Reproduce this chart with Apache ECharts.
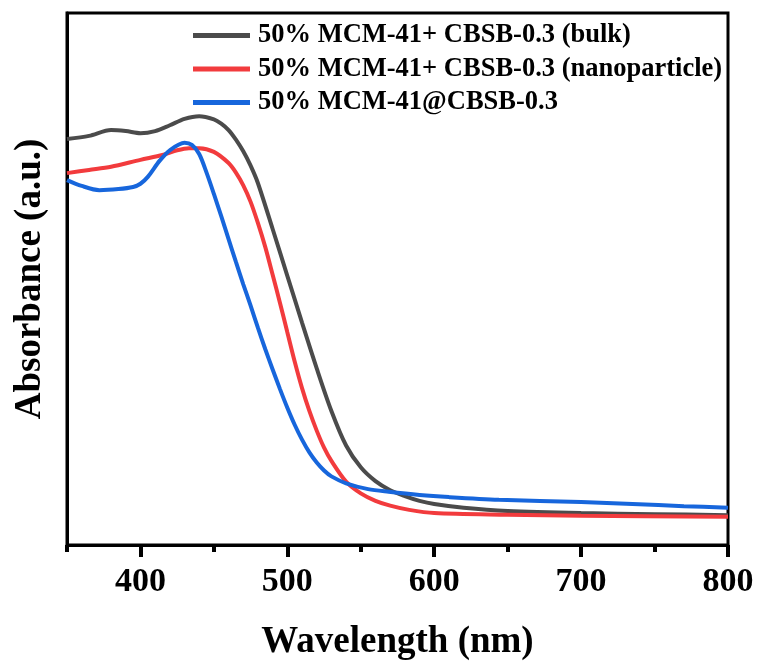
<!DOCTYPE html>
<html>
<head>
<meta charset="utf-8">
<script src="https://cdn.jsdelivr.net/npm/echarts@6/dist/echarts.min.js"></script>
<style>html,body{margin:0;padding:0;background:#fff;}#c{width:759px;height:666px;}</style>
</head>
<body>
<div id="c"></div>
<script>
const seriesNames = ['50% MCM-41+ CBSB-0.3 (bulk)', '50% MCM-41+ CBSB-0.3 (nanoparticle)', '50% MCM-41@CBSB-0.3'];
const xTicks = [400, 500, 600, 700, 800];
const xMinorTicks = [350, 450, 550, 650, 750];

const bulk = [[350,0.763],[365,0.769],[380,0.780],[390,0.778],[400,0.774],[410,0.778],[420,0.789],[430,0.801],[440,0.806],[450,0.800],[455,0.792],[460,0.780],[465,0.762],[470,0.740],[475,0.713],[480,0.680],[490,0.594],[500,0.506],[510,0.418],[520,0.332],[530,0.252],[540,0.187],[550,0.146],[560,0.120],[570,0.103],[580,0.092],[590,0.083],[600,0.077],[620,0.070],[650,0.064],[700,0.060],[750,0.058],[800,0.056]];

const nano = [[350,0.699],[365,0.705],[380,0.711],[400,0.724],[415,0.733],[425,0.742],[433,0.746],[440,0.746],[450,0.739],[460,0.718],[465,0.700],[470,0.676],[475,0.645],[480,0.605],[485,0.560],[490,0.508],[495,0.455],[500,0.400],[505,0.345],[510,0.295],[515,0.252],[520,0.215],[525,0.183],[530,0.158],[540,0.119],[550,0.097],[560,0.083],[570,0.074],[583,0.066],[600,0.060],[650,0.057],[700,0.055],[800,0.053]];

const core = [[350,0.686],[360,0.675],[372,0.667],[385,0.669],[395,0.673],[400,0.679],[405,0.692],[413,0.722],[420,0.742],[430,0.756],[435,0.752],[440,0.735],[445,0.700],[450,0.660],[455,0.618],[460,0.575],[465,0.532],[470,0.490],[475,0.450],[480,0.408],[485,0.368],[490,0.330],[495,0.293],[500,0.258],[505,0.226],[510,0.198],[515,0.174],[520,0.155],[525,0.140],[530,0.129],[540,0.116],[555,0.105],[569,0.100],[590,0.094],[610,0.090],[644,0.085],[700,0.081],[735,0.077],[770,0.073],[800,0.070]];

const colors = ['#4b4b4b', '#f23b3d', '#1766dc'];
const font = 'Liberation Serif';

const chart = echarts.init(document.getElementById('c'), null, {renderer: 'canvas'});
const mk = (name, data, color) => ({
  name, type: 'line', data, showSymbol: false, symbol: 'none',
  smooth: 0.3, xAxisIndex: 0,
  lineStyle: {color, width: 4}, itemStyle: {color}
});
chart.setOption({
  animation: false,
  backgroundColor: '#fff',
  grid: {left: 67, right: 31, top: 13, bottom: 121, show: true, borderColor: '#000', borderWidth: 3, backgroundColor: 'transparent'},
  legend: {
    orient: 'vertical', left: 188, top: 17, icon: 'rect', itemWidth: 57, itemHeight: 5, itemGap: 6.5,
    textStyle: {fontFamily: font, fontWeight: 'bold', fontSize: 26.5, color: '#000', lineHeight: 26, padding: [0,0,0,3]},
    data: seriesNames
  },
  xAxis: [{
    type: 'value', min: 350, max: 800, interval: 50,
    name: 'Wavelength (nm)', nameLocation: 'middle', nameGap: 97,
    nameTextStyle: {fontFamily: font, fontWeight: 'bold', fontSize: 37, color: '#000', verticalAlign: 'middle'},
    axisLine: {show: true, lineStyle: {color: '#000', width: 3}},
    axisTick: {show: true, inside: false, length: 12, lineStyle: {color: '#000', width: 4},
      customValues: xTicks},
    axisLabel: {fontFamily: font, fontWeight: 'bold', fontSize: 34, color: '#000', margin: 20,
      customValues: xTicks},
    splitLine: {show: false}
  }, {
    type: 'value', min: 350, max: 800, interval: 50, position: 'bottom',
    axisLine: {show: false},
    axisTick: {show: true, inside: false, length: 7, lineStyle: {color: '#000', width: 4},
      customValues: xMinorTicks},
    axisLabel: {show: false}, splitLine: {show: false}
  }],
  yAxis: {
    type: 'value', min: 0, max: 1,
    name: 'Absorbance (a.u.)', nameLocation: 'middle', nameGap: 37, nameRotate: 90,
    nameTextStyle: {fontFamily: font, fontWeight: 'bold', fontSize: 37, color: '#000', verticalAlign: 'middle'},
    axisLine: {show: true, lineStyle: {color: '#000', width: 3}},
    axisTick: {show: false}, axisLabel: {show: false}, splitLine: {show: false}
  },
  series: [mk(seriesNames[0], bulk, colors[0]), mk(seriesNames[1], nano, colors[1]), mk(seriesNames[2], core, colors[2])]
});
</script>
</body>
</html>
